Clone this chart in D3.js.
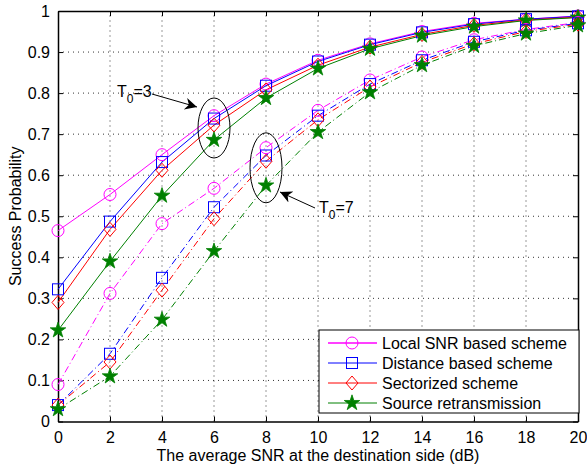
<!DOCTYPE html>
<html>
<head>
<meta charset="utf-8">
<script src="https://cdn.jsdelivr.net/npm/d3@7"></script>
<style>
  body { margin: 0; background: #fff; }
  svg text { font-family: "Liberation Sans", Arial, Helvetica, sans-serif; }
</style>
</head>
<body>
<div id="chart"></div>
<script>
// SNR at destination (dB)
var snr = [0, 2, 4, 6, 8, 10, 12, 14, 16, 18, 20];

// T0 = 3 (solid)
var localT3    = [0.465, 0.553, 0.650, 0.745, 0.822, 0.880, 0.920, 0.950, 0.970, 0.980, 0.988];
var distanceT3 = [0.322, 0.487, 0.632, 0.738, 0.818, 0.877, 0.918, 0.948, 0.968, 0.980, 0.987];
var sectorT3   = [0.290, 0.468, 0.612, 0.722, 0.808, 0.868, 0.912, 0.943, 0.965, 0.978, 0.985];
var sourceT3   = [0.222, 0.390, 0.550, 0.686, 0.788, 0.860, 0.908, 0.940, 0.962, 0.977, 0.984];

// T0 = 7 (dash-dot)
var localT7    = [0.090, 0.312, 0.482, 0.568, 0.667, 0.758, 0.832, 0.888, 0.930, 0.955, 0.972];
var distanceT7 = [0.040, 0.165, 0.350, 0.522, 0.648, 0.745, 0.822, 0.880, 0.925, 0.953, 0.970];
var sectorT7   = [0.040, 0.145, 0.320, 0.494, 0.634, 0.735, 0.815, 0.875, 0.920, 0.950, 0.968];
var sourceT7   = [0.030, 0.110, 0.248, 0.415, 0.575, 0.705, 0.802, 0.868, 0.915, 0.945, 0.965];

var schemeNames = ["Local SNR based scheme", "Distance based scheme", "Sectorized scheme", "Source retransmission"];
var xTicks = [0, 2, 4, 6, 8, 10, 12, 14, 16, 18, 20];
var yTicks = [0, 0.1, 0.2, 0.3, 0.4, 0.5, 0.6, 0.7, 0.8, 0.9, 1];

var colors = ["#ff00ff", "#0000ff", "#ff0000", "#008000"];
var markers = ["circle", "square", "diamond", "star"];

var series = [
    {values: localT3, scheme: 0, dashed: false},
    {values: distanceT3, scheme: 1, dashed: false},
    {values: sectorT3, scheme: 2, dashed: false},
    {values: sourceT3, scheme: 3, dashed: false},
    {values: localT7, scheme: 0, dashed: true},
    {values: distanceT7, scheme: 1, dashed: true},
    {values: sectorT7, scheme: 2, dashed: true},
    {values: sourceT7, scheme: 3, dashed: true}
];

var width = 587, height = 466;
var margin = {left: 58, right: 9, top: 11, bottom: 44.5};
var fontSize = 16;

var svg = d3.select("#chart")
    .append("svg")
    .attr("width", width)
    .attr("height", height);

var x = d3.scaleLinear().domain([0, 20]).range([margin.left, width - margin.right]);
var y = d3.scaleLinear().domain([0, 1]).range([height - margin.bottom, margin.top]);

// grid
svg.append("g").selectAll("line.gx")
    .data(xTicks.slice(1, -1))
    .enter().append("line")
    .attr("x1", function(d) { return x(d); })
    .attr("x2", function(d) { return x(d); })
    .attr("y1", y(0)).attr("y2", y(1))
    .attr("stroke", "#000").attr("stroke-width", 0.8)
    .attr("stroke-dasharray", "1,4");
svg.append("g").selectAll("line.gy")
    .data(yTicks.slice(1, -1))
    .enter().append("line")
    .attr("y1", function(d) { return y(d); })
    .attr("y2", function(d) { return y(d); })
    .attr("x1", x(0)).attr("x2", x(20))
    .attr("stroke", "#000").attr("stroke-width", 0.8)
    .attr("stroke-dasharray", "1,4");

// axes (ticks pointing inward, mirrored on top/right)
var fmtY = function(d) { return d === 0 || d === 1 ? d3.format("d")(d) : d3.format(".1f")(d); };
svg.append("g")
    .attr("transform", "translate(0," + y(0) + ")")
    .call(d3.axisBottom(x).tickValues(xTicks).tickSizeInner(-5).tickSizeOuter(0).tickPadding(10));
svg.append("g")
    .attr("transform", "translate(" + x(0) + ",0)")
    .call(d3.axisLeft(y).tickValues(yTicks).tickFormat(fmtY).tickSizeInner(-5).tickSizeOuter(0).tickPadding(8));
svg.append("g")
    .attr("transform", "translate(0," + y(1) + ")")
    .call(d3.axisTop(x).tickValues(xTicks).tickFormat("").tickSizeInner(-5).tickSizeOuter(0));
svg.append("g")
    .attr("transform", "translate(" + x(20) + ",0)")
    .call(d3.axisRight(y).tickValues(yTicks).tickFormat("").tickSizeInner(-5).tickSizeOuter(0));

svg.selectAll(".domain").attr("stroke", "#000").attr("stroke-width", 1.5);
svg.selectAll(".tick line").attr("stroke", "#000");
svg.selectAll(".tick text").attr("font-size", fontSize).attr("fill", "#000");

// axis labels
svg.append("text")
    .attr("x", x(10)).attr("y", 461)
    .attr("text-anchor", "middle")
    .attr("font-size", fontSize)
    .text("The average SNR at the destination side (dB)");
svg.append("text")
    .attr("transform", "translate(21," + y(0.5) + ") rotate(-90)")
    .attr("text-anchor", "middle")
    .attr("font-size", fontSize)
    .text("Success Probability");

// lines
var line = d3.line()
    .x(function(d, i) { return x(snr[i]); })
    .y(function(d) { return y(d); });

svg.append("g").selectAll("path.curve")
    .data(series)
    .enter().append("path")
    .attr("class", "curve")
    .attr("d", function(d) { return line(d.values); })
    .attr("fill", "none")
    .attr("stroke", function(d) { return colors[d.scheme]; })
    .attr("stroke-width", 1)
    .attr("stroke-dasharray", function(d) { return d.dashed ? "7,3,1,3" : null; });

// markers
var drawMarker = function(g, type, color) {
    if (type === "circle") {
        g.append("circle").attr("r", 6).attr("fill", "none").attr("stroke", color).attr("stroke-width", 1);
    } else if (type === "square") {
        g.append("rect").attr("x", -5.5).attr("y", -5.5).attr("width", 11).attr("height", 11)
            .attr("fill", "none").attr("stroke", color).attr("stroke-width", 1);
    } else if (type === "diamond") {
        g.append("path").attr("d", "M0,-7 L6,0 L0,7 L-6,0 Z")
            .attr("fill", "none").attr("stroke", color).attr("stroke-width", 1);
    } else {
        g.append("path").attr("d", d3.symbol().type(d3.symbolStar).size(75)())
            .attr("fill", color).attr("stroke", color).attr("stroke-width", 0.8);
    }
};

series.forEach(function(s) {
    var pts = svg.append("g").selectAll("g.pt")
        .data(s.values)
        .enter().append("g")
        .attr("transform", function(d, i) { return "translate(" + x(snr[i]) + "," + y(d) + ")"; });
    pts.each(function() { drawMarker(d3.select(this), markers[s.scheme], colors[s.scheme]); });
});

// annotations: ellipses at 6 dB (T0=3) and 8 dB (T0=7)
svg.append("ellipse")
    .attr("cx", x(6)).attr("cy", y(0.715)).attr("rx", 16).attr("ry", 30)
    .attr("fill", "none").attr("stroke", "#000").attr("stroke-width", 1);
svg.append("ellipse")
    .attr("cx", x(8)).attr("cy", y(0.618)).attr("rx", 16).attr("ry", 35)
    .attr("fill", "none").attr("stroke", "#000").attr("stroke-width", 1);

svg.append("defs").append("marker")
    .attr("id", "arrowHead")
    .attr("viewBox", "0 0 10 10")
    .attr("refX", 10).attr("refY", 5)
    .attr("markerUnits", "userSpaceOnUse")
    .attr("markerWidth", 18).attr("markerHeight", 12)
    .attr("orient", "auto")
    .append("path")
    .attr("d", "M0,0 L10,5 L0,10 L3,5 Z")
    .attr("fill", "#000");

svg.append("line")
    .attr("x1", 152).attr("y1", 94).attr("x2", 197).attr("y2", 107)
    .attr("stroke", "#000").attr("stroke-width", 1)
    .attr("marker-end", "url(#arrowHead)");
svg.append("line")
    .attr("x1", 315).attr("y1", 208).attr("x2", 280).attr("y2", 192)
    .attr("stroke", "#000").attr("stroke-width", 1)
    .attr("marker-end", "url(#arrowHead)");

var t3 = svg.append("text").attr("x", 117).attr("y", 97).attr("font-size", fontSize);
t3.append("tspan").text("T");
t3.append("tspan").attr("dy", 6).attr("font-size", 12).text("0");
t3.append("tspan").attr("dy", -6).text("=3");

var t7 = svg.append("text").attr("x", 319).attr("y", 213).attr("font-size", fontSize);
t7.append("tspan").text("T");
t7.append("tspan").attr("dy", 6).attr("font-size", 12).text("0");
t7.append("tspan").attr("dy", -6).text("=7");

// legend
var legend = svg.append("g");
legend.append("rect")
    .attr("x", 319).attr("y", 330).attr("width", 260).attr("height", 83)
    .attr("fill", "#fff").attr("stroke", "#000").attr("stroke-width", 1);

var rows = legend.selectAll("g.row")
    .data(schemeNames)
    .enter().append("g")
    .attr("transform", function(d, i) { return "translate(0," + (343 + i * 20) + ")"; });
rows.append("line")
    .attr("x1", 328).attr("x2", 377)
    .attr("stroke", function(d, i) { return colors[i]; })
    .attr("stroke-width", function(d, i) { return i === 0 ? 1.5 : 1; });
rows.each(function(d, i) {
    var g = d3.select(this).append("g").attr("transform", "translate(352,0)");
    drawMarker(g, markers[i], colors[i]);
});
rows.append("text")
    .attr("x", 382).attr("y", 5.5)
    .attr("font-size", fontSize)
    .text(function(d) { return d; });
</script>
</body>
</html>
